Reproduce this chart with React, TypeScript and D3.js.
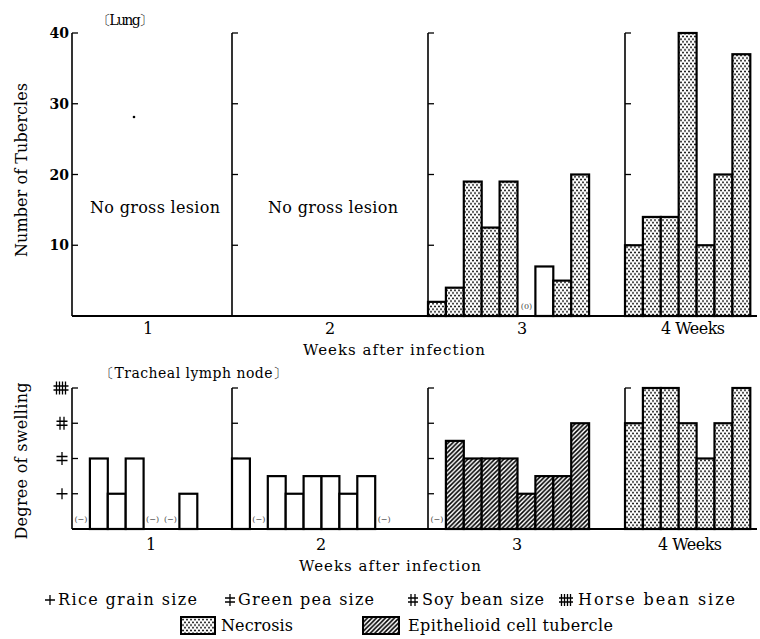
import React from 'react';
import * as d3 from 'd3';

// ---------- data ----------
const weekLabels = ['1', '2', '3', '4 Weeks'];
const lungTicks = [10, 20, 30, 40];
const swellTicks = [1, 2, 3, 4];
const swellLegend = ['Rice grain size', 'Green pea size', 'Soy bean size', 'Horse bean size'];
const noLesionText = 'No gross lesion';

// Lung: number of tubercles per animal
const lungWeek1: (number | null)[] = [];
const lungWeek2: (number | null)[] = [];
const lungWeek3: (number | null)[] = [2, 4, 19, 12.5, 19, 0, 7, 5, 20];
const lungWeek3Kind = ['N', 'N', 'N', 'N', 'N', 'Z', 'W', 'N', 'N'];
const lungWeek4: (number | null)[] = [10, 14, 14, 40, 10, 20, 37];
const lungWeek4Kind = ['N', 'N', 'N', 'N', 'N', 'N', 'N'];

// Tracheal lymph node: degree of swelling (null = (−))
const nodeWeek1: (number | null)[] = [null, 2, 1, 2, null, null, 1];
const nodeWeek2: (number | null)[] = [2, null, 1.5, 1, 1.5, 1.5, 1, 1.5, null];
const nodeWeek3: (number | null)[] = [null, 2.5, 2, 2, 2, 1, 1.5, 1.5, 3];
const nodeWeek4: (number | null)[] = [3, 4, 4, 3, 2, 3, 4];
const nodeKinds = ['W', 'W', 'H', 'N'];

// ---------- layout ----------
const W = 760, H = 639;
const panelX = [72, 232, 428, 625];
const slotW = 17.9;
const FONT = "'DejaVu Serif', 'Liberation Serif', serif";

const yLung = d3.scaleLinear().domain([0, 40]).range([316, 33]);
const yNode = d3.scaleLinear().domain([0, 4]).range([529, 388]);

function fillFor(kind: string) {
  if (kind === 'N') return 'url(#dots)';
  if (kind === 'H') return 'url(#hatch)';
  return '#fff';
}

function SwellMark({ level, x, y, s = 11 }: { level: number; x: number; y: number; s?: number }) {
  const h = s / 2;
  const parts: string[] = [];
  if (level === 1) {
    parts.push(`M${x - h},${y}H${x + h}`, `M${x},${y - h}V${y + h}`);
  } else if (level === 2) {
    parts.push(`M${x - h},${y - 2}H${x + h}`, `M${x - h},${y + 2}H${x + h}`, `M${x},${y - h - 1}V${y + h + 1}`);
  } else if (level === 3) {
    parts.push(`M${x - h},${y - 2}H${x + h}`, `M${x - h},${y + 2}H${x + h}`, `M${x - 2},${y - h - 1}V${y + h + 1}`, `M${x + 2},${y - h - 1}V${y + h + 1}`);
  } else {
    const w = h + 2;
    parts.push(`M${x - w},${y - 2}H${x + w}`, `M${x - w},${y + 2}H${x + w}`);
    [-4.5, -1.5, 1.5, 4.5].forEach((dx) => parts.push(`M${x + dx},${y - h - 1}V${y + h + 1}`));
  }
  return <path d={parts.join('')} stroke="#000" strokeWidth={1.3} fill="none" />;
}

function Bars({ values, kinds, x0, y, zeroLabel }: { values: (number | null)[]; kinds: string[]; x0: number; y: d3.ScaleLinear<number, number>; zeroLabel: string }) {
  const band = d3.scaleBand<number>().domain(d3.range(values.length)).range([x0, x0 + values.length * slotW]).padding(0);
  const base = y(0);
  return (
    <g>
      {values.map((v, i) => {
        const xx = band(i)!;
        const k = kinds[i];
        if (v === null || k === 'Z' || v === 0) {
          return (
            <text key={i} x={xx + band.bandwidth() / 2} y={base - 7} fontSize={8} fill="#444" textAnchor="middle" fontFamily={FONT}>
              {k === 'Z' ? '(0)' : zeroLabel}
            </text>
          );
        }
        return <rect key={i} x={xx} y={y(v)} width={band.bandwidth()} height={base - y(v)} fill={fillFor(k)} stroke="#000" strokeWidth={2.2} />;
      })}
    </g>
  );
}

function AxisLines({ y, ticks }: { y: d3.ScaleLinear<number, number>; ticks: number[] }) {
  const [d0, d1] = y.domain();
  return (
    <g>
      {panelX.map((px, i) => (
        <g key={i}>
          <line x1={px} x2={px} y1={y(d1)} y2={y(d0)} stroke="#000" strokeWidth={1.6} />
          {ticks.map((t) => (
            <line key={t} x1={px} x2={px + 6} y1={y(t)} y2={y(t)} stroke="#000" strokeWidth={1.3} />
          ))}
        </g>
      ))}
      <line x1={panelX[0]} x2={757} y1={y(0)} y2={y(0)} stroke="#000" strokeWidth={1.8} />
    </g>
  );
}

function T({ x, y, w, size = 16, anchor = 'start', weight = 400, children, transform }: any) {
  return (
    <text x={x} y={y} transform={transform} fontSize={size} fontWeight={weight} textAnchor={anchor}
      fontFamily={FONT} fill="#000" textLength={w} lengthAdjust={w ? 'spacing' : undefined}>
      {children}
    </text>
  );
}

export default function App() {
  const lungData = [lungWeek1, lungWeek2, lungWeek3, lungWeek4];
  const lungKinds = [[], [], lungWeek3Kind, lungWeek4Kind];
  const nodeData = [nodeWeek1, nodeWeek2, nodeWeek3, nodeWeek4];
  const weekXTop = [148, 330, 522, 693];
  const weekXBot = [151, 321, 517, 690];
  const legendSym = [50, 230, 413, 566];
  const legendTxt = [58, 238, 422, 578];
  const legendW = [139, 136, 122, 157];

  return (
    <svg width={W} height={H} style={{ position: 'absolute', left: 0, top: 0, background: '#fff' }}>
      <defs>
        <pattern id="dots" width={4} height={5.4} patternUnits="userSpaceOnUse">
          <rect width={4} height={5.4} fill="#fff" />
          <circle cx={1} cy={1.35} r={1} fill="#000" />
          <circle cx={3} cy={4.05} r={1} fill="#000" />
        </pattern>
        <pattern id="hatch" width={4.5} height={4.5} patternUnits="userSpaceOnUse">
          <rect width={4.5} height={4.5} fill="#fff" />
          <path d="M-1,1 L1,-1 M0,4.5 L4.5,0 M3.5,5.5 L5.5,3.5" stroke="#000" strokeWidth={1.6} />
        </pattern>
      </defs>

      {/* ---------- Lung ---------- */}
      <T x={97} y={25} w={56} size={14}>〔Lung〕</T>
      <T transform="translate(27,170) rotate(-90)" x={0} y={0} anchor="middle" w={174} size={16}>Number of Tubercles</T>
      {lungTicks.map((t) => (
        <T key={t} x={69} y={yLung(t) + 5} anchor="end" size={14} weight={700}>{t}</T>
      ))}
      <AxisLines y={yLung} ticks={lungTicks} />
      {lungData.map((vals, i) =>
        vals.length ? <Bars key={i} values={vals} kinds={lungKinds[i]} x0={panelX[i]} y={yLung} zeroLabel="(0)" /> : null
      )}
      <T x={155} y={213} anchor="middle" w={130} size={16}>{noLesionText}</T>
      <T x={333} y={213} anchor="middle" w={130} size={16}>{noLesionText}</T>
      <circle cx={134} cy={117} r={1.3} fill="#000" />
      {weekLabels.map((w, i) => (
        <T key={w} x={weekXTop[i]} y={334} anchor="middle" size={16} w={i === 3 ? 64 : undefined}>{w}</T>
      ))}
      <T x={394} y={355} anchor="middle" w={182} size={15}>Weeks after infection</T>

      {/* ---------- Tracheal lymph node ---------- */}
      <T x={100} y={378} w={187} size={14}>〔Tracheal lymph node〕</T>
      <T transform="translate(27,461) rotate(-90)" x={0} y={0} anchor="middle" w={157} size={16}>Degree of swelling</T>
      {swellTicks.map((t) => (
        <SwellMark key={t} level={t} x={t === 4 ? 61 : 62} y={yNode(t)} />
      ))}
      <AxisLines y={yNode} ticks={swellTicks} />
      {nodeData.map((vals, i) => (
        <Bars key={i} values={vals} kinds={vals.map(() => nodeKinds[i])} x0={panelX[i]} y={yNode} zeroLabel="(−)" />
      ))}
      {weekLabels.map((w, i) => (
        <T key={w} x={weekXBot[i]} y={550} anchor="middle" size={16} w={i === 3 ? 64 : undefined}>{w}</T>
      ))}
      <T x={390} y={571} anchor="middle" w={182} size={15}>Weeks after infection</T>

      {/* ---------- Legend ---------- */}
      {swellLegend.map((lab, i) => (
        <g key={lab}>
          <SwellMark level={i + 1} x={legendSym[i]} y={600} s={10} />
          <T x={legendTxt[i]} y={605} w={legendW[i]} size={16}>{lab}</T>
        </g>
      ))}
      <rect x={181} y={617} width={34} height={17} fill="url(#dots)" stroke="#000" strokeWidth={2} />
      <T x={221} y={631} w={72} size={16}>Necrosis</T>
      <rect x={363} y={617} width={36} height={17} fill="url(#hatch)" stroke="#000" strokeWidth={2} />
      <T x={408} y={631} w={205} size={16}>Epithelioid cell tubercle</T>
    </svg>
  );
}
